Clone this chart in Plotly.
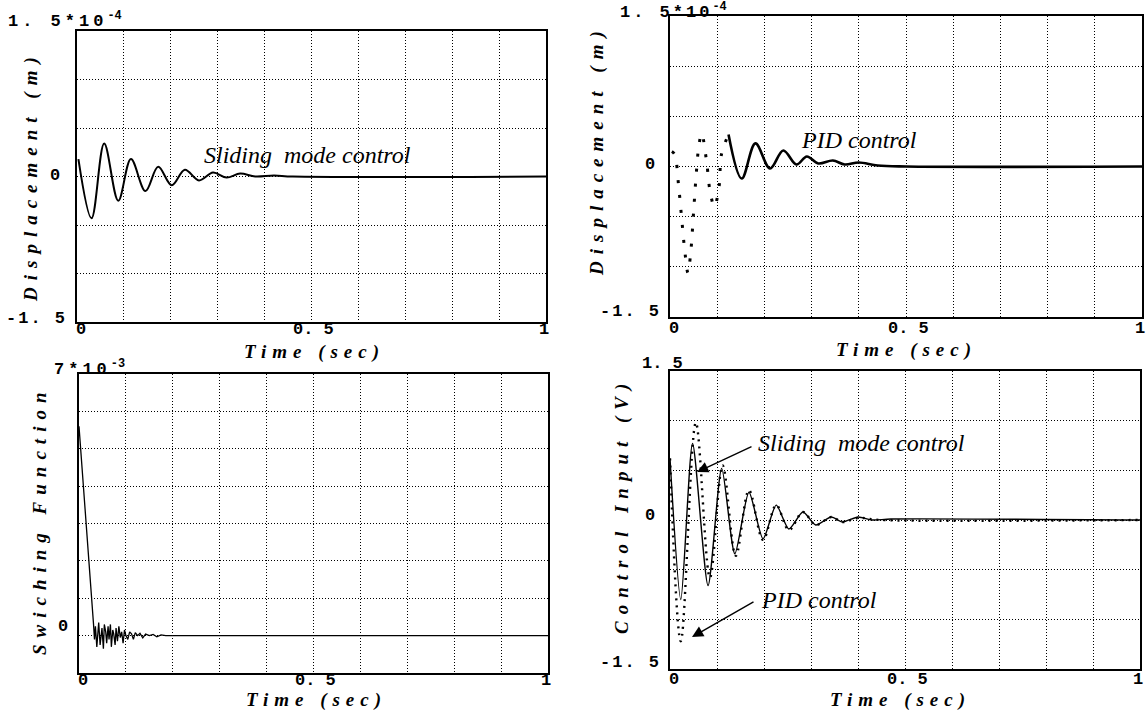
import plotly.graph_objects as go

W, H = 1146, 710

# ---------------- data ----------------
# Top-left: sliding mode control displacement (units of 1e-4 m)
t_smc_disp = [0.003, 0.031, 0.058, 0.088, 0.115, 0.146, 0.173, 0.202, 0.230, 0.260,
              0.290, 0.319, 0.348, 0.380, 0.420, 0.460, 1.000]
smc_disp = [0.18, -0.43, 0.34, -0.25, 0.18, -0.15, 0.10, -0.09, 0.07, -0.04,
            0.04, -0.01, 0.03, 0.00, 0.01, 0.00, 0.00]

# Top-right: PID control displacement (units of 1e-4 m)
t_pid_disp = [0.004, 0.010, 0.018, 0.025, 0.032, 0.038, 0.044, 0.050, 0.056, 0.061,
              0.067, 0.077, 0.085, 0.094, 0.104, 0.109, 0.124, 0.152, 0.181, 0.212,
              0.240, 0.268, 0.290, 0.314, 0.345, 0.370, 0.400, 0.440, 0.500, 1.000]
pid_disp = [0.15, 0.12, -0.18, -0.53, -0.87, -1.06, -0.85, -0.45, -0.05, 0.20,
            0.33, 0.07, -0.25, -0.40, -0.20, 0.12, 0.32, -0.12, 0.23, -0.02,
            0.16, 0.02, 0.10, 0.03, 0.06, 0.02, 0.04, 0.01, 0.00, 0.00]
pid_dotted_until = 0.124   # fast part is drawn dotted in the reference

# Bottom-left: switching function (units of 1e-3)
t_sw = [0.000, 0.022, 0.031, 0.033, 0.035, 0.038, 0.040, 0.042, 0.045, 0.047,
        0.049, 0.052, 0.054, 0.057, 0.059, 0.062, 0.064, 0.067, 0.069, 0.072,
        0.074, 0.077, 0.079, 0.082, 0.085, 0.088, 0.091, 0.094, 0.097, 0.100,
        0.104, 0.108, 0.112, 0.116, 0.120, 0.125, 0.130, 0.136, 0.142, 0.150,
        0.158, 0.166, 0.175, 0.185, 0.200, 1.000]
sw = [5.60, 2.00, 0.30, -0.10, 0.25, -0.30, 0.10, 0.35, -0.25, 0.05,
      0.20, -0.35, 0.30, 0.10, -0.20, 0.25, -0.10, 0.30, -0.30, 0.15,
      0.05, -0.25, 0.20, -0.15, 0.25, -0.05, 0.10, -0.20, 0.15, 0.00,
      -0.10, 0.10, 0.05, -0.10, 0.08, 0.00, 0.06, -0.06, 0.04, 0.00,
      0.03, -0.03, 0.02, 0.00, 0.00, 0.00]

# Bottom-right: control input (V)
t_u_smc = [0.000, 0.023, 0.048, 0.081, 0.110, 0.138, 0.168, 0.198, 0.226, 0.253,
           0.283, 0.310, 0.343, 0.367, 0.400, 0.430, 0.470, 1.000]
u_smc = [0.62, -0.80, 0.77, -0.66, 0.52, -0.34, 0.28, -0.19, 0.15, -0.09,
         0.08, -0.05, 0.03, -0.02, 0.03, 0.00, 0.01, 0.00]
t_u_pid = [0.000, 0.023, 0.055, 0.085, 0.112, 0.140, 0.168, 0.198, 0.226, 0.253,
           0.283, 0.310, 0.343, 0.367, 0.400, 0.450, 1.000]
u_pid = [0.62, -1.22, 0.98, -0.58, 0.55, -0.36, 0.30, -0.20, 0.15, -0.10,
         0.08, -0.05, 0.03, -0.02, 0.02, 0.00, 0.00]

x_grid = [i / 10 for i in range(11)]
x_label_vals = [0, 0.5, 1]
x_label_text = ["0", "0. 5", "1"]
y_grid_disp = [-1.5, -1.0, -0.5, 0.0, 0.5, 1.0, 1.5]
y_grid_sw = [-1, 0, 1, 2, 3, 4, 5, 6, 7]

# ---------------- figure ----------------
fig = go.Figure()


def px_x(v):
    return v / W


def px_y(v):
    return 1 - v / H


# subplot domains (pixels -> paper)
dom = {
    1: ([77, 546], [31, 322]),
    2: ([670, 1142], [16, 317]),
    3: ([79, 548], [374, 673]),
    4: ([670, 1140], [371, 669]),
}

MONO = "Liberation Mono"
SERIF = "Liberation Serif"
TICKF = dict(family=MONO, size=17, color="black", weight="bold")

for k, (xr, yr) in dom.items():
    xs = "" if k == 1 else str(k)
    common = dict(showline=True, linecolor="black", linewidth=2, mirror=True,
                  showgrid=True, gridcolor="black", gridwidth=1, griddash="1px,2px",
                  zeroline=False, ticks="", showticklabels=False)
    fig.layout["xaxis" + xs] = dict(
        common, domain=[px_x(xr[0]), px_x(xr[1])], range=[0, 1],
        tickvals=x_grid, anchor="y" + xs)
    yvals = y_grid_sw if k == 3 else y_grid_disp
    yrange = [-1, 7] if k == 3 else [-1.5, 1.5]
    fig.layout["yaxis" + xs] = dict(
        common, domain=[px_y(yr[1]), px_y(yr[0])], range=yrange,
        tickvals=yvals, anchor="x" + xs)

# traces
fig.add_trace(go.Scatter(x=t_smc_disp, y=smc_disp, mode="lines",
                         line=dict(color="black", width=2, shape="spline", smoothing=1),
                         xaxis="x", yaxis="y", showlegend=False))

k_split = t_pid_disp.index(pid_dotted_until)
fig.add_trace(go.Scatter(x=t_pid_disp[:k_split + 1], y=pid_disp[:k_split + 1], mode="lines",
                         line=dict(color="black", width=3, shape="spline", smoothing=1,
                                   dash="3px,12px"),
                         xaxis="x2", yaxis="y2", showlegend=False))
fig.add_trace(go.Scatter(x=t_pid_disp[k_split:], y=pid_disp[k_split:], mode="lines",
                         line=dict(color="black", width=2.6, shape="spline", smoothing=1),
                         xaxis="x2", yaxis="y2", showlegend=False))

fig.add_trace(go.Scatter(x=t_sw, y=sw, mode="lines",
                         line=dict(color="black", width=1.3),
                         xaxis="x3", yaxis="y3", showlegend=False))

fig.add_trace(go.Scatter(x=t_u_pid, y=u_pid, mode="lines",
                         line=dict(color="black", width=2.4, shape="spline", smoothing=1,
                                   dash="2px,5px"),
                         xaxis="x4", yaxis="y4", showlegend=False))
fig.add_trace(go.Scatter(x=t_u_smc, y=u_smc, mode="lines",
                         line=dict(color="black", width=1.4, shape="spline", smoothing=0.7),
                         xaxis="x4", yaxis="y4", showlegend=False))


def sp(s, n):
    return f'<span style="letter-spacing:{n}px">{s}</span>'


def label(text, x, y, xanchor="left"):
    fig.add_annotation(text=text, xref="paper", yref="paper", x=px_x(x), y=px_y(y),
                       xanchor=xanchor, yanchor="middle", showarrow=False, font=TICKF)


# x tick labels, placed on each x axis scale
x_label_rows = {"x": 329, "x2": 328, "x3": 680, "x4": 679}
for xa, ypx in x_label_rows.items():
    for v, txt in zip(x_label_vals, x_label_text):
        fig.add_annotation(text=txt, xref=xa, yref="paper", x=v, y=px_y(ypx),
                           xanchor="center", yanchor="middle", showarrow=False,
                           borderpad=0,
                           xshift=4 if v == 0 else (-2 if v == 1 else 2), font=TICKF)

# y tick labels
label(sp("1. 5*10", 4) + "<sup>-4</sup>", 6, 20)
label("0", 62, 175, xanchor="right")
label(sp("-1. 5", 2), 4, 318)

label(sp("1. 5*10", 3) + "<sup>-4</sup>", 618, 11)
label("0", 657, 164, xanchor="right")
label(sp("-1. 5", 2), 598, 311)

label(sp("7*10", 4) + "<sup>-3</sup>", 52, 368)
label("0", 70, 626, xanchor="right")

label("1. 5", 640, 363)
label("0", 657, 515, xanchor="right")
label(sp("-1. 5", 2), 598, 662)

# axis titles (bold italic, spaced)
TF = dict(family=SERIF, size=19, color="black", weight="bold", style="italic")


def title(text, x, y, angle=0):
    fig.add_annotation(text=text, xref="paper", yref="paper", x=px_x(x), y=px_y(y),
                       xanchor="center", yanchor="middle", showarrow=False,
                       borderpad=0, textangle=angle, font=TF)


title(sp("Time (sec)", 6), 314, 352)
title(sp("Time (sec)", 6), 906, 350)
title(sp("Time (sec)", 6), 316, 700)
title(sp("Time (sec)", 6), 900, 700)
title(sp("Displacement (m)", 7), 31, 176, -90)
title(sp("Displacement (m)", 7), 597, 150, -90)
title(sp("Swiching Function", 7), 39, 521, -90)
title(sp("Control Input (V)", 7), 622, 506, -90)

# curve annotations
AF = dict(family=SERIF, size=24, color="black", style="italic")


def note(text, x, y):
    fig.add_annotation(text=text, xref="paper", yref="paper", x=px_x(x), y=px_y(y),
                       xanchor="left", yanchor="middle", showarrow=False, font=AF)


note("Sliding  mode control", 202, 155)
note("PID control", 799, 140)
note("Sliding  mode control", 756, 443)
note("PID control", 759, 600)


def arrow(hx, hy, tx, ty):
    fig.add_annotation(text="", xref="paper", yref="paper", x=px_x(hx), y=px_y(hy),
                       ax=tx - hx, ay=ty - hy, axref="pixel", ayref="pixel",
                       showarrow=True, arrowhead=2, arrowsize=1.6, arrowwidth=1.4,
                       arrowcolor="black", standoff=0)


arrow(697, 472, 753, 446)
arrow(692, 637, 755, 601)

fig.update_layout(width=W, height=H, margin=dict(l=0, r=0, t=0, b=0),
                  paper_bgcolor="white", plot_bgcolor="white", showlegend=False)

fig.write_html("out.html")
